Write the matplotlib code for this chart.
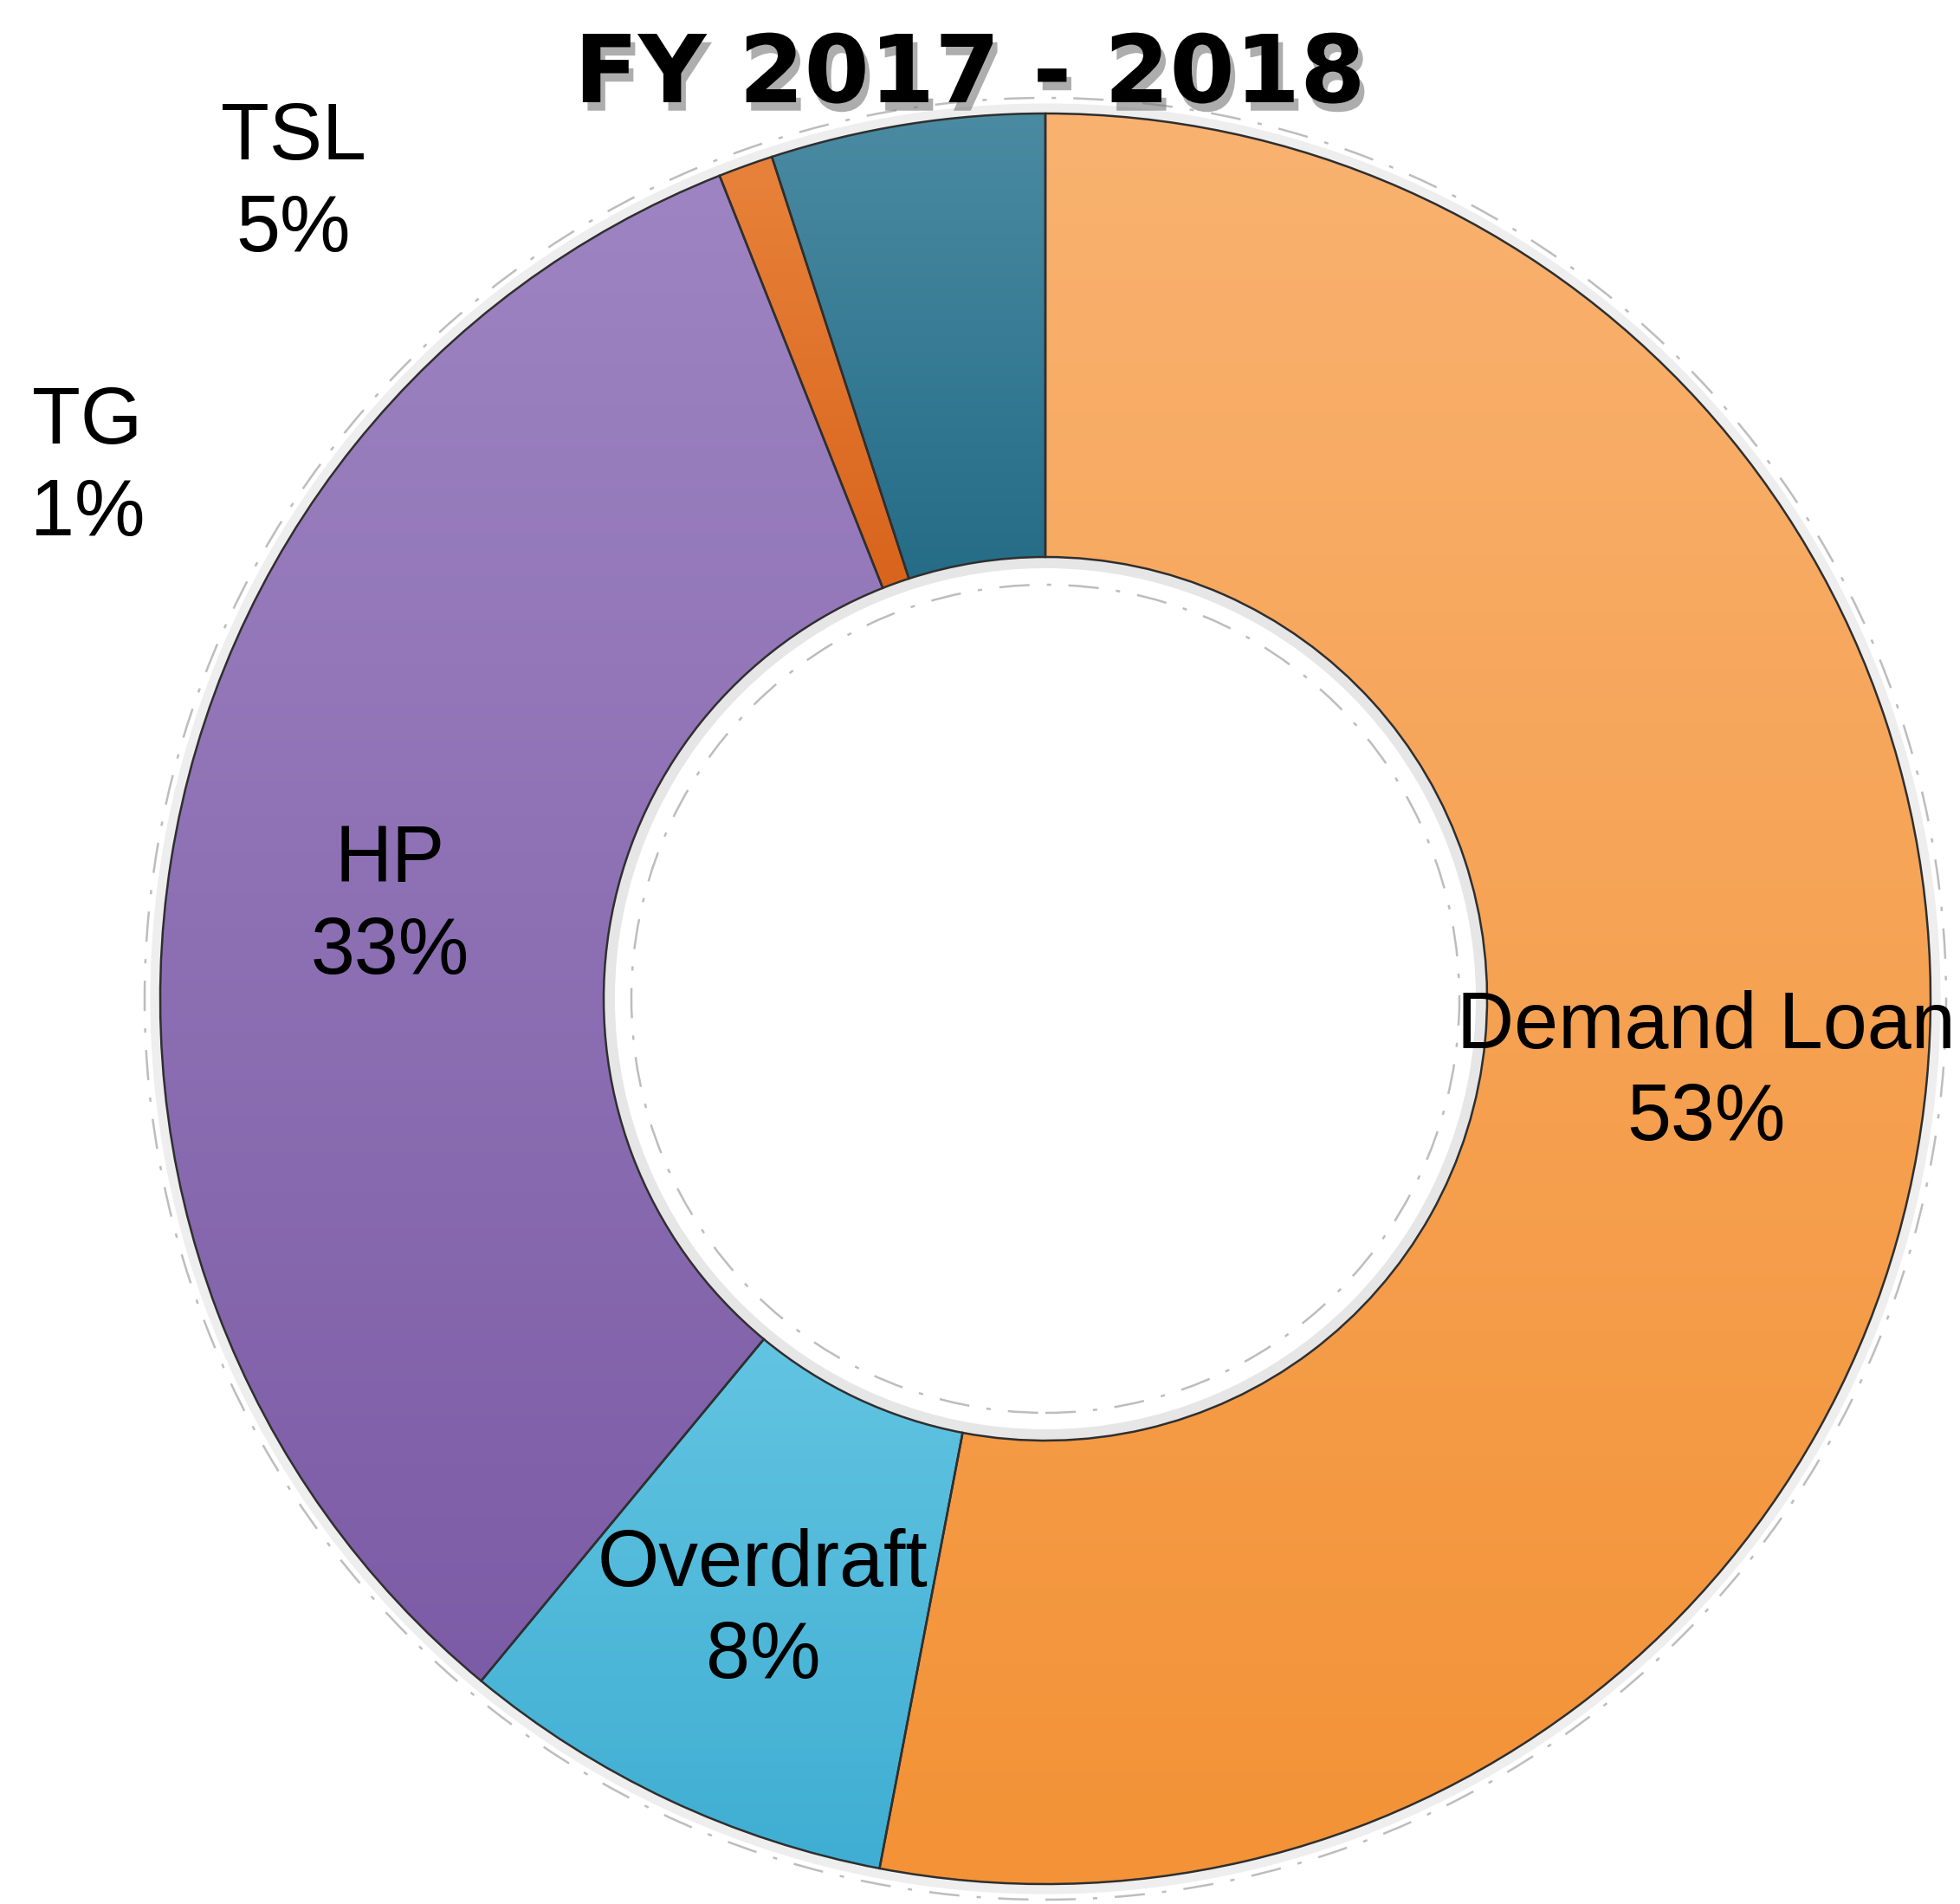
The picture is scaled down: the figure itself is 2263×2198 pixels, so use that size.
import numpy as np
import matplotlib
matplotlib.use("Agg")
import matplotlib.pyplot as plt
import matplotlib.patheffects as pe
from matplotlib.colors import LinearSegmentedColormap

# data
names = ["Demand Loan", "Overdraft", "HP", "TG", "TSL"]
shares = [53, 8, 33, 1, 5]
title = "FY 2017 - 2018"

# gradient colours per slice (top, bottom)
top_colors = ["#F9B270", "#62C4E2", "#9E84C2", "#E8823A", "#4A8BA2"]
bottom_colors = ["#F39236", "#3FAED2", "#7C5CA6", "#D9641C", "#256C87"]

# outside label spots (pixels, from top-left) for the two thin slices
outside_pos = {"TG": (101, 541), "TSL": (339, 213)}

W, H = 2263, 2198
cx, cy = 1207, H - 1153
r_out, r_in = 1022, 510

plt.rcParams["font.family"] = ["Liberation Sans", "DejaVu Sans"]

fig = plt.figure(figsize=(W / 100, H / 100), dpi=100)
ax = fig.add_axes([0, 0, 1, 1])

labels = [f"{n}\n{v}%" for n, v in zip(names, shares)]
wedges, texts = ax.pie(shares, labels=labels, radius=r_out, center=(cx, cy),
                       startangle=90, counterclock=False,
                       labeldistance=(r_out + r_in) / 2 / r_out,
                       wedgeprops=dict(width=r_out - r_in, facecolor="none",
                                       edgecolor="#2f2f2f", linewidth=1.8),
                       textprops=dict(fontsize=66, color="black"))
ax.set_aspect("equal")
ax.axis("off")

for w, c1, c2 in zip(wedges, top_colors, bottom_colors):
    w.set_zorder(3)
    bb = w.get_path().get_extents()
    cmap = LinearSegmentedColormap.from_list("g", [c2, c1])
    grad = np.linspace(0, 1, 256).reshape(-1, 1)
    im = ax.imshow(grad, cmap=cmap, origin="lower", aspect="auto",
                   extent=(bb.x0, bb.x1, bb.y0, bb.y1), zorder=2)
    im.set_clip_path(w)

ax.set_xlim(0, W)
ax.set_ylim(0, H)

for t, n in zip(texts, names):
    t.set_ha("center")
    t.set_va("center")
    t.set_multialignment("center")
    t.set_linespacing(1.3)
    t.set_zorder(5)
    if n in outside_pos:
        px, py = outside_pos[n]
        t.set_position((px, H - py))
    else:
        x, y = t.get_position()
        t.set_position((x, y - 14))

# soft shadow rings and dashed outlines
ax.add_patch(plt.Circle((cx, cy), r_in - 6, fill=False, ec="#E6E6E6", lw=10, zorder=1))
ax.add_patch(plt.Circle((cx, cy), r_out + 6, fill=False, ec="#EEEEEE", lw=8, zorder=1))
ax.add_patch(plt.Circle((cx, cy), r_out + 18, fill=False, ec="#BDBDBD", lw=1.8,
                        ls=(0, (14, 8, 2, 8)), zorder=1))
ax.add_patch(plt.Circle((cx, cy), r_in - 32, fill=False, ec="#BDBDBD", lw=1.8,
                        ls=(0, (14, 8, 2, 8)), zorder=1))

ax.text(1120, H - 88, title, ha="center", va="center", fontsize=78,
        fontweight="bold", family="DejaVu Sans", zorder=6,
        path_effects=[pe.withSimplePatchShadow(offset=(4, -7), shadow_rgbFace="#777777", alpha=0.6)])

fig.savefig("out.png", dpi=100, facecolor="white")
